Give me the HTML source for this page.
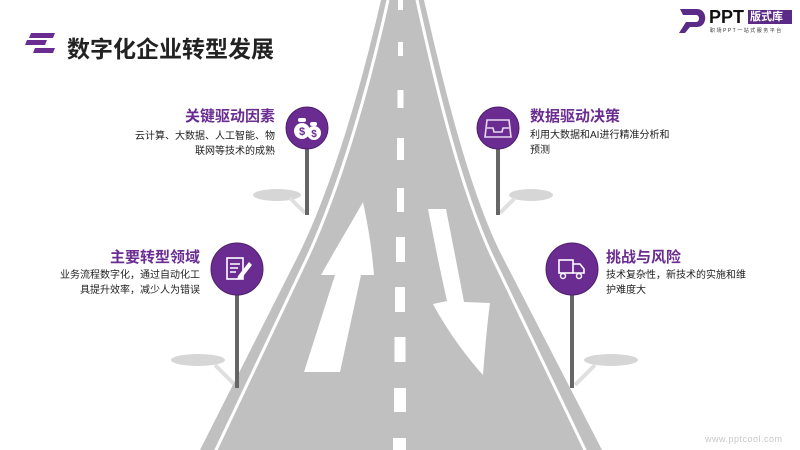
<!DOCTYPE html>
<html><head><meta charset="utf-8">
<style>
html,body{margin:0;padding:0;background:#fff;}
body{width:800px;height:450px;position:relative;overflow:hidden;font-family:"Liberation Sans","Noto Sans CJK SC",sans-serif;}
.t{position:absolute;white-space:nowrap;}
.h{color:#6a2c91;font-size:15px;font-weight:bold;}
.d{color:#222;font-size:10px;line-height:15px;}
</style></head><body>
<svg width="800" height="450" style="position:absolute;left:0;top:0">
  <!-- shadows -->
  <ellipse cx="277" cy="195" rx="24" ry="6" fill="#d6d6d6"/>
  <path d="M290,198 L305,213" stroke="#e0e0e0" stroke-width="4"/>
  <ellipse cx="531" cy="195" rx="22" ry="6" fill="#d6d6d6"/>
  <path d="M515,198 L500,213" stroke="#e0e0e0" stroke-width="4"/>
  <ellipse cx="198" cy="360" rx="27" ry="6" fill="#d6d6d6"/>
  <path d="M215,365 L235,385" stroke="#e0e0e0" stroke-width="4"/>
  <ellipse cx="611" cy="360" rx="27" ry="6" fill="#d6d6d6"/>
  <path d="M595,365 L575,385" stroke="#e0e0e0" stroke-width="4"/>
  <!-- road -->
  <path d="M381,0 C358,100 330,190 300,252 L200,450 L602,450 L500,252 C470,190 447,100 424,0 Z" fill="#c0c0c0"/>
  <path d="M388,0 C366,100 338,190 309,254 L215,452" stroke="#fff" stroke-width="3" fill="none"/>
  <path d="M417,0 C439,100 462,190 491,254 L586,452" stroke="#fff" stroke-width="3" fill="none"/>
  <!-- dashes -->
  <g fill="#fff">
    <rect x="398" y="0" width="5" height="10"/>
    <rect x="398" y="42" width="5" height="14"/>
    <rect x="397.5" y="90" width="6" height="18"/>
    <rect x="397" y="138" width="7" height="22"/>
    <rect x="397" y="188" width="7" height="24"/>
    <rect x="396" y="237" width="9" height="25"/>
    <rect x="395" y="287" width="10" height="25"/>
    <rect x="394.5" y="337" width="11" height="25"/>
    <rect x="394" y="388" width="12" height="24"/>
    <rect x="393" y="438" width="13" height="14"/>
  </g>
  <!-- arrows -->
  <path d="M363,202 C368,225 372,250 374,275 L361,275 L340,372 L304,372 L335,275 L321,275 C335,250 350,225 363,202 Z" fill="#fff"/>
  <path d="M428,209 L446,209 C452,240 458,270 464,302 L490,303 C487,325 485,350 483,375 C465,355 447,330 433,304 L447,301 C440,270 434,240 428,209 Z" fill="#fff"/>
  <!-- posts -->
  <g fill="#666">
    <rect x="305" y="140" width="4" height="75"/>
    <rect x="496" y="140" width="4" height="75"/>
    <rect x="235" y="280" width="4" height="108"/>
    <rect x="570" y="280" width="4" height="108"/>
  </g>
  <g fill="#6a2c91" stroke="#4e1f6c" stroke-width="1">
    <circle cx="307" cy="128" r="21"/>
    <circle cx="498" cy="128" r="21"/>
    <circle cx="237" cy="269" r="26"/>
    <circle cx="572" cy="269" r="26"/>
  </g>
  <!-- icon money -->
  <g fill="#fff">
    <circle cx="302" cy="131" r="8"/><circle cx="314" cy="133" r="7"/>
    <rect x="298" y="118" width="8" height="4" rx="2"/><rect x="310" y="122" width="7" height="4" rx="2"/>
  </g>
  <text x="302" y="135" font-size="11" font-weight="bold" fill="#6a2c91" text-anchor="middle" font-family="Liberation Sans">$</text>
  <text x="314" y="137" font-size="10" font-weight="bold" fill="#6a2c91" text-anchor="middle" font-family="Liberation Sans">$</text>
  <!-- inbox icon -->
  <path d="M487,120 L509,120 L511,137 L485,137 Z M487,128 L493,128 L494,132 L502,132 L503,128 L509,128" stroke="#e8d8f0" stroke-width="1.6" fill="none"/>
  <!-- doc icon -->
  <rect x="227" y="258" width="16" height="21" fill="none" stroke="#fff" stroke-width="1.6"/>
  <path d="M230,264 H240 M230,268 H238 M230,272 H236" stroke="#fff" stroke-width="1.4"/>
  <path d="M238,276 L249,262 L252,265 L241,279 L237,280 Z" fill="#fff"/>
  <!-- truck icon -->
  <rect x="559" y="260" width="14" height="13" fill="none" stroke="#fff" stroke-width="1.6"/>
  <path d="M573,264 L580,264 L584,269 L584,273 L573,273" fill="none" stroke="#fff" stroke-width="1.6"/>
  <circle cx="563" cy="276" r="2.5" fill="none" stroke="#fff" stroke-width="1.4"/>
  <circle cx="579" cy="276" r="2.5" fill="none" stroke="#fff" stroke-width="1.4"/>
  <!-- title bars -->
  <g fill="#6a2c91">
    <polygon points="31,33 55,33 53,38 29,38"/>
    <polygon points="27,40 47,40 45,45 25,45"/>
    <polygon points="35,48 55,48 53,53 33,53"/>
  </g>
  <!-- logo -->
  <path d="M680,9 L697,9 C708,9 708,27 697,27 L690,27 L685,33 L679,33 L686,22 L696,22 C700,22 700,15 696,15 L683,15 Z" fill="#5b2a86"/>
  <rect x="748" y="10" width="44" height="14" fill="#5b2a86"/>
</svg>
<div class="t" style="left:67px;top:30px;font-size:23px;font-weight:bold;color:#222;">数字化企业转型发展</div>
<div class="t" style="left:709px;top:7px;font-size:18px;font-weight:bold;color:#111;">PPT</div>
<div class="t" style="left:750px;top:10px;font-size:11px;font-weight:bold;color:#fff;line-height:14px;">版式库</div>
<div class="t" style="left:710px;top:27px;font-size:5px;color:#333;letter-spacing:1.5px;">职场PPT一站式服务平台</div>

<div class="t h" style="right:525px;top:105px;">关键驱动因素</div>
<div class="t d" style="right:525px;top:129px;text-align:right;">云计算、大数据、人工智能、物<br>联网等技术的成熟</div>

<div class="t h" style="left:530px;top:105px;">数据驱动决策</div>
<div class="t d" style="left:530px;top:128px;">利用大数据和AI进行精准分析和<br>预测</div>

<div class="t h" style="right:600px;top:246px;">主要转型领域</div>
<div class="t d" style="right:600px;top:268px;text-align:right;">业务流程数字化，通过自动化工<br>具提升效率，减少人为错误</div>

<div class="t h" style="left:606px;top:246px;">挑战与风险</div>
<div class="t d" style="left:606px;top:268px;">技术复杂性，新技术的实施和维<br>护难度大</div>

<div class="t" style="left:705px;top:434px;font-size:9px;color:#c8c8c8;letter-spacing:0.5px;">www.pptcool.com</div>
</body></html>
